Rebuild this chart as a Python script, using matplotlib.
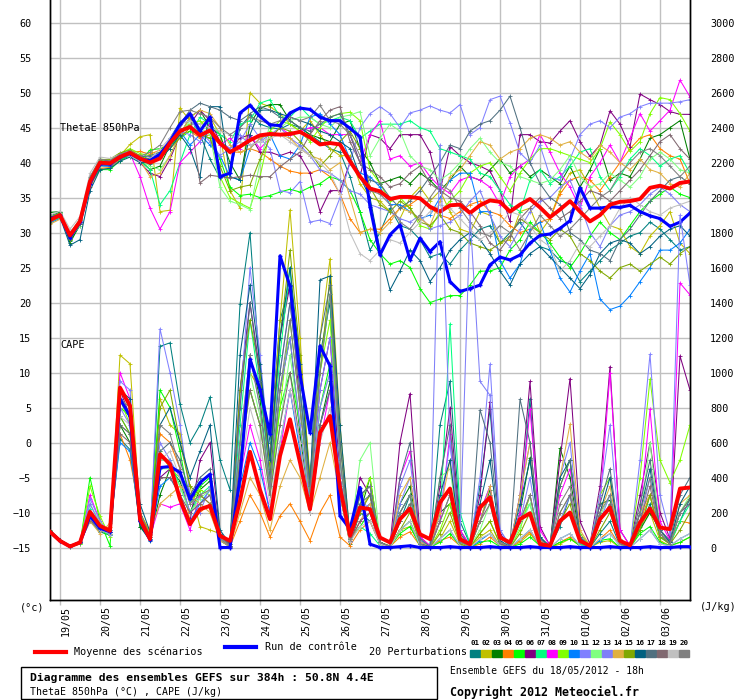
import numpy as np
import matplotlib
matplotlib.use('Agg')
import matplotlib.pyplot as plt
from matplotlib.patches import Rectangle
from matplotlib.lines import Line2D
from matplotlib.transforms import ScaledTranslation

# 65 steps of 6h, from 18/05 18h to 04/06 18h (384h)
steps = np.arange(65)
dates = ['19/05', '20/05', '21/05', '22/05', '23/05', '24/05', '25/05', '26/05',
         '27/05', '28/05', '29/05', '30/05', '31/05', '01/06', '02/06', '03/06']

# ThetaE 850hPa (degC)
theta_mean = [31.8, 32.5, 29.6, 31.6, 37.3, 40.0, 39.9, 40.8, 41.4, 40.6, 40.0, 40.6,
              42.8, 44.5, 45.1, 43.9, 44.6, 42.8, 41.5, 42.3, 43.2, 43.9, 44.1, 44.0, 44.1, 44.4,
              43.6, 42.6, 42.8, 42.6, 40.2, 38.0, 36.3,
              35.9, 34.8, 35.1, 35.1, 34.9, 33.7, 33.0, 33.9, 34.0, 32.8, 33.9, 34.6, 34.4, 33.0,
              34.0, 34.8, 33.6, 32.2, 33.3, 34.5, 33.0, 31.6, 32.5, 34.0, 34.4, 34.5, 34.8, 36.4,
              36.7, 36.3, 37.1, 37.3]
theta_ctrl = [32.0, 32.5, 29.3, 31.5, 37.0, 39.8, 39.8, 40.8, 41.3, 40.5, 40.3, 41.2,
              43.0, 45.5, 47.0, 44.5, 46.5, 38.0, 38.5, 47.1, 48.2, 46.6, 45.4, 45.3, 47.1, 47.8,
              47.6, 46.5, 46.0, 46.0, 44.9, 43.7, 33.7,
              26.8, 29.7, 31.1, 26.1, 29.2, 27.3, 28.7, 23.0, 21.6, 22.0, 22.5, 25.4, 26.5, 26.1,
              26.8, 28.5, 29.6, 29.8, 30.6, 31.7, 36.4, 33.5, 33.5, 33.7, 33.6, 33.9, 33.0, 32.4,
              32.0, 30.9, 31.5, 32.8]

theta_01 = [32.4, 32.9, 28.8, 31.0, 37.0, 39.6, 39.5, 40.5, 41.0, 40.3, 39.8, 40.8,
            43.5, 45.8, 46.5, 44.0, 40.5, 37.8, 38.5, 45.0, 46.8, 45.5, 45.0, 44.8, 45.5, 45.0, 44.0, 43.0, 42.0, 41.5, 38.0, 33.0, 27.5,
            30.0, 33.5, 31.0, 30.5, 29.0, 26.5, 27.0, 25.5, 27.5, 29.0, 30.5, 31.0, 28.5, 30.0, 31.5, 29.5,
            28.0, 27.5, 26.0, 25.5, 23.0, 24.5, 26.0, 27.5, 28.5, 29.5, 30.0, 31.5, 30.5, 29.0, 27.5, 28.0]
theta_02 = [32.0, 32.6, 29.4, 31.4, 37.5, 40.2, 40.0, 41.0, 42.6, 43.7, 44.0, 33.0,
            33.2, 47.8, 46.0, 45.5, 46.5, 44.0, 36.0, 33.5, 50.0, 48.5, 48.0, 47.0, 45.5, 44.5, 46.0, 44.0, 42.0, 41.0, 41.0, 37.0, 35.0,
            34.5, 33.0, 32.0, 35.0, 36.5, 34.5, 36.0, 33.0, 30.5, 30.0, 33.0, 32.5, 28.5, 29.0, 33.0, 33.5,
            30.0, 32.0, 36.0, 38.5, 39.0, 36.5, 33.5, 31.0, 30.5, 28.0, 27.0, 29.5, 31.0, 33.0, 28.5, 27.0]
theta_03 = [32.9, 33.0, 28.5, 31.2, 37.2, 40.2, 40.3, 40.8, 41.3, 40.4, 39.0, 39.5,
            42.5, 44.0, 46.5, 47.5, 45.0, 44.0, 40.0, 37.5, 45.5, 47.8, 48.3, 48.3, 46.0, 45.0, 44.0, 43.5, 43.0, 45.5, 46.0, 42.0, 40.0,
            37.0, 37.5, 38.0, 37.0, 38.5, 37.5, 36.0, 37.5, 39.5, 38.0, 37.5, 39.0, 40.5, 38.5, 39.5, 38.0,
            39.0, 38.0, 37.0, 39.5, 36.5, 39.0, 42.0, 37.5, 38.5, 38.0, 40.5, 43.5, 44.0, 45.0, 46.0, 40.5]
theta_04 = [31.5, 32.2, 29.8, 31.8, 36.5, 39.2, 39.3, 40.5, 41.5, 41.6, 41.2, 41.8,
            43.0, 44.0, 44.5, 43.5, 44.0, 42.5, 41.5, 41.5, 42.0, 41.5, 40.5, 39.5, 38.8, 38.5, 38.5, 39.0, 38.0, 35.5, 32.0, 30.0, 30.5,
            30.5, 32.0, 33.5, 34.0, 35.0, 33.5, 32.5, 32.0, 33.0, 34.0, 34.5, 33.0, 32.5, 31.0, 30.0, 30.5,
            31.5, 32.0, 35.5, 37.5, 38.0, 37.5, 36.0, 38.0, 40.0, 42.0, 43.5, 44.0, 42.0, 41.0, 40.5, 37.0]
theta_05 = [32.2, 32.5, 29.0, 31.2, 37.0, 39.0, 39.0, 40.3, 41.0, 40.2, 41.8, 42.0,
            42.5, 43.5, 44.5, 44.0, 43.5, 40.5, 36.5, 35.3, 35.5, 35.0, 35.3, 35.8, 36.2, 35.8, 36.5, 37.0, 38.0, 37.5, 36.0, 33.0, 29.0,
            27.0, 25.5, 26.0, 25.0, 22.0, 20.0, 20.5, 21.0, 21.0, 22.5, 24.5, 24.5, 25.0, 27.5, 29.0, 31.5,
            30.0, 28.5, 26.5, 25.0, 27.0, 29.5, 31.5, 30.0, 29.0, 31.0, 33.0, 34.5, 35.5, 36.5, 35.5, 35.0]
theta_06 = [31.6, 32.3, 29.9, 31.8, 37.5, 40.1, 40.3, 41.2, 41.5, 40.0, 38.5, 38.0,
            40.5, 44.0, 45.5, 47.5, 46.0, 43.0, 42.0, 43.5, 44.0, 41.5, 41.5, 41.0, 41.5, 41.0, 38.5, 33.0, 36.0, 36.0, 40.0, 38.0, 44.0,
            43.5, 42.0, 44.0, 44.0, 44.0, 41.5, 35.9, 42.3, 41.0, 40.0, 39.5, 38.8, 36.0, 31.6, 44.0, 44.0,
            43.0, 42.8, 44.5, 46.0, 43.0, 40.9, 42.5, 47.4, 45.5, 42.3, 49.8, 49.0, 48.3, 47.3, 46.9, 46.9]
theta_07 = [32.0, 32.8, 29.2, 31.5, 37.8, 40.3, 40.0, 41.0, 41.5, 40.2, 39.0, 34.0,
            36.0, 40.0, 44.0, 46.5, 45.5, 44.0, 43.0, 45.5, 46.0, 48.5, 49.0, 46.5, 46.5, 48.0, 46.5, 45.5, 46.0, 46.5, 46.0, 43.5, 44.5,
            45.5, 45.5, 45.5, 46.0, 45.0, 44.5, 42.0, 41.5, 41.0, 40.5, 38.5, 38.0, 36.0, 34.0, 33.0, 37.5,
            39.0, 37.0, 38.0, 39.5, 41.5, 42.0, 38.0, 36.0, 38.0, 40.5, 42.0, 41.0, 39.5, 40.5, 41.0, 38.5]
theta_08 = [31.8, 32.4, 29.3, 31.6, 37.4, 40.0, 39.8, 40.7, 41.3, 38.0, 33.5, 30.5,
            33.0, 40.0, 41.5, 43.0, 45.5, 42.5, 43.5, 42.0, 44.0, 42.0, 43.5, 45.0, 44.0, 44.5, 45.0, 45.0, 44.0, 44.0, 44.0, 40.0, 44.0,
            46.0, 40.5, 41.0, 39.5, 40.0, 38.0, 36.5, 35.6, 37.5, 38.0, 37.5, 36.5, 34.0, 38.0, 39.5, 40.5,
            44.0, 41.5, 38.5, 36.5, 33.5, 38.0, 40.0, 42.5, 40.0, 43.5, 47.0, 44.5, 46.0, 47.5, 51.8, 49.4]
theta_09 = [31.5, 32.1, 29.7, 31.8, 37.8, 40.5, 40.4, 41.3, 42.0, 41.3, 41.0, 41.5,
            43.0, 44.5, 45.5, 46.0, 44.5, 38.0, 35.0, 34.2, 33.5, 38.0, 44.5, 46.0, 45.5, 44.5, 43.0, 45.0, 46.5, 47.0, 47.2, 46.0, 39.0,
            37.0, 34.5, 35.0, 33.5, 31.0, 30.5, 33.0, 34.5, 36.0, 38.5, 39.5, 40.0, 38.0, 36.0, 38.5, 40.5,
            42.0, 42.0, 41.5, 41.0, 40.5, 40.0, 42.0, 45.8, 44.0, 41.6, 43.0, 47.0, 49.3, 49.0, 47.0, 44.5]
theta_10 = [31.4, 32.0, 29.6, 31.7, 37.0, 39.5, 39.5, 40.6, 41.0, 40.6, 40.5, 41.0,
            43.0, 44.5, 42.5, 44.0, 42.5, 41.0, 38.0, 37.5, 42.0, 43.5, 44.0, 41.0, 40.5, 42.5, 46.5, 47.0, 45.5, 44.0, 40.5, 38.5, 38.0,
            36.5, 34.0, 34.0, 33.0, 32.0, 32.5, 35.0, 37.5, 38.5, 38.5, 33.0, 33.0, 26.0, 23.5, 25.5, 30.5,
            31.5, 27.5, 23.5, 21.5, 24.5, 27.0, 20.5, 19.0, 19.5, 21.0, 23.0, 25.0, 27.5, 27.5, 28.5, 30.5]
theta_11 = [32.0, 32.5, 29.8, 31.7, 37.5, 40.0, 40.0, 41.0, 41.4, 40.7, 40.3, 41.0,
            43.0, 44.5, 44.0, 43.0, 44.5, 43.0, 42.0, 43.0, 45.5, 43.5, 42.0, 36.0, 35.7, 37.3, 31.5, 31.8, 31.3, 35.0, 40.0, 45.0, 47.0,
            48.0, 47.0, 45.0, 47.1, 47.5, 48.1, 47.5, 47.1, 48.3, 44.0, 45.0, 49.0, 49.5, 45.7, 41.4, 40.0,
            42.5, 38.0, 37.5, 40.5, 44.0, 45.5, 46.0, 45.0, 46.5, 47.0, 48.0, 48.5, 48.5, 48.5, 48.7, 49.0]
theta_12 = [32.2, 32.7, 29.2, 31.0, 36.8, 39.5, 39.8, 40.9, 41.0, 40.3, 39.5, 39.0,
            41.0, 44.0, 46.0, 45.0, 44.0, 36.5, 34.5, 34.0, 33.3, 40.0, 45.5, 45.0, 46.0, 46.5, 46.5, 45.5, 45.0, 46.5, 46.8, 47.3, 41.0,
            43.5, 45.5, 44.5, 41.0, 39.5, 39.0, 37.5, 38.5, 40.0, 42.0, 43.5, 41.5, 40.0, 39.5, 38.0, 37.5,
            37.0, 37.5, 39.0, 41.0, 38.0, 36.5, 37.0, 38.5, 37.5, 36.5, 38.0, 40.5, 41.5, 40.5, 39.0, 38.5]
theta_13 = [31.7, 32.4, 29.5, 31.4, 37.0, 39.9, 40.1, 40.9, 41.6, 41.0, 40.8, 41.3,
            43.5, 45.5, 46.0, 44.5, 43.0, 41.0, 42.0, 44.0, 42.5, 43.0, 44.0, 45.0, 43.5, 42.5, 41.0, 39.0, 38.5, 37.5, 36.0, 35.5, 34.0,
            33.5, 33.0, 32.0, 31.5, 32.5, 30.5, 31.0, 31.5, 32.5, 34.5, 36.0, 32.5, 29.5, 28.0, 30.5, 33.0,
            34.5, 35.0, 36.5, 37.5, 34.0, 30.0, 28.0, 31.0, 32.5, 33.0, 34.0, 35.5, 36.5, 35.5, 34.0, 33.0]
theta_14 = [31.2, 31.9, 29.9, 32.0, 37.8, 40.2, 40.0, 40.9, 41.5, 40.3, 38.0, 38.5,
            41.0, 44.0, 46.5, 47.5, 47.0, 45.0, 42.5, 41.5, 42.0, 43.5, 44.0, 44.0, 43.5, 42.0, 41.0, 40.5, 39.0, 40.0, 35.0, 30.0, 30.5,
            30.0, 31.5, 33.5, 33.0, 32.0, 31.0, 34.5, 38.0, 39.0, 41.0, 43.0, 42.5, 40.5, 41.5, 42.0, 43.5,
            44.0, 43.5, 42.5, 43.0, 41.5, 40.5, 42.5, 41.5, 40.0, 39.0, 40.5, 39.0, 38.5, 37.0, 36.5, 38.5]
theta_15 = [32.3, 32.8, 29.0, 31.3, 37.3, 40.4, 40.5, 41.4, 41.8, 41.0, 40.5, 41.0,
            42.0, 43.5, 45.0, 44.0, 43.5, 39.5, 36.0, 36.5, 36.8, 40.5, 43.5, 45.0, 44.5, 43.0, 41.5, 39.5, 41.0, 43.0, 44.5, 42.0, 36.5,
            34.0, 33.0, 34.5, 33.5, 31.5, 31.0, 32.5, 30.5, 30.0, 28.5, 28.0, 27.5, 28.5, 29.5, 32.0, 31.0,
            30.0, 29.0, 30.5, 29.5, 27.0, 26.0, 24.5, 23.5, 25.0, 25.5, 24.5, 25.5, 26.5, 25.5, 27.0, 28.0]
theta_16 = [31.9, 32.2, 28.2, 29.0, 36.0, 39.0, 39.2, 40.2, 40.8, 40.0, 40.0, 40.6,
            42.0, 44.0, 42.0, 38.0, 48.0, 48.0, 38.0, 37.5, 44.0, 47.5, 47.5, 47.0, 46.5, 46.0, 45.5, 44.5, 44.0, 43.0, 42.0, 38.0, 35.0,
            27.5, 21.8, 24.5, 27.5, 26.0, 23.0, 25.0, 27.5, 29.0, 30.0, 29.0, 27.0, 24.5, 22.5, 25.5, 27.0,
            28.0, 26.5, 25.0, 23.5, 22.0, 24.0, 27.0, 28.5, 29.0, 28.5, 27.0, 28.0, 29.5, 30.5, 31.0, 29.5]
theta_17 = [31.6, 32.3, 29.1, 31.2, 37.6, 40.1, 40.2, 41.1, 41.4, 40.8, 41.0, 41.5,
            43.0, 45.5, 47.5, 48.5, 48.0, 47.5, 46.5, 46.0, 47.0, 48.0, 47.5, 46.5, 46.0, 45.0, 44.5, 45.5, 46.5, 47.0, 44.0, 40.0, 37.5,
            37.0, 35.0, 33.5, 34.5, 36.0, 38.0, 40.0, 42.5, 42.0, 44.5, 45.5, 46.0, 47.5, 49.5, 45.0, 40.0,
            37.0, 35.0, 34.0, 30.0, 29.0, 27.5, 27.0, 26.0, 29.0, 30.5, 32.5, 34.5, 36.0, 37.5, 38.0, 37.0]
theta_18 = [31.8, 32.5, 29.7, 31.5, 37.1, 39.7, 39.7, 40.7, 41.3, 40.4, 40.2, 41.0,
            42.5, 45.0, 47.0, 37.1, 38.2, 38.0, 37.8, 38.0, 38.2, 38.0, 38.0, 39.4, 40.5, 41.5, 44.0, 46.0, 47.5, 48.0, 43.0, 40.0, 39.0,
            38.0, 36.5, 37.0, 38.5, 39.5, 37.0, 36.0, 35.0, 34.5, 33.0, 31.0, 28.5, 27.5, 29.5, 32.0, 33.5,
            35.0, 33.5, 32.0, 33.0, 34.5, 36.0, 35.5, 34.5, 36.0, 37.5, 39.0, 41.0, 43.0, 44.0, 42.0, 40.5]
theta_19 = [32.5, 33.1, 30.5, 32.3, 38.5, 40.8, 40.6, 41.2, 41.0, 40.2, 40.5, 42.0,
            43.5, 45.5, 46.0, 45.5, 45.0, 44.5, 44.0, 43.0, 42.5, 43.0, 43.5, 44.0, 43.0, 42.0, 41.0, 40.0, 38.5, 35.5, 30.0, 27.0, 26.0,
            27.5, 29.0, 28.5, 30.0, 31.5, 33.0, 34.0, 33.5, 32.0, 30.5, 29.0, 30.0, 31.0, 33.0, 32.5, 31.0,
            29.0, 28.0, 24.5, 26.0, 28.5, 28.0, 29.5, 31.0, 33.5, 35.0, 34.0, 33.0, 32.5, 33.5, 34.0, 34.5]
theta_20 = [31.7, 32.6, 29.9, 31.9, 38.0, 40.5, 40.3, 41.2, 41.7, 40.9, 41.5, 42.5,
            45.0, 47.3, 47.5, 47.0, 46.5, 45.0, 44.0, 45.0, 46.5, 46.0, 45.5, 46.0, 46.5, 46.0, 46.5, 48.2, 46.0, 45.5, 44.0, 41.0, 36.0,
            35.5, 34.0, 31.5, 30.5, 32.5, 35.0, 37.0, 36.0, 33.5, 31.5, 30.0, 29.5, 31.0, 30.0, 27.5, 30.0,
            32.5, 31.0, 29.5, 30.5, 32.0, 33.5, 35.0, 36.0, 38.5, 40.0, 41.5, 42.0, 41.0, 39.5, 38.0, 39.5]

# CAPE (J/kg)
cape_mean = [90, 38, 6, 29, 204, 124, 95, 914, 810, 162, 48, 533, 476,
             276, 133, 219, 238, 67, 38, 267, 547, 330, 162, 524, 733, 486,
             219, 657, 752, 343, 67, 229, 219, 57, 29, 162, 223, 76, 48,
             257, 337, 48, 19, 229, 286, 57, 29, 162, 196, 19, 10, 152,
             200, 38, 10, 162, 229, 38, 13, 143, 223, 114, 105, 337, 343]
cape_ctrl = [90, 38, 6, 29, 180, 110, 90, 850, 750, 150, 45, 457, 463,
             429, 276, 371, 419, 0, 0, 400, 1076, 905, 648, 1667, 1495, 990,
             657, 1152, 1038, 181, 105, 343, 19, 0, 0, 5, 10, 0, 0,
             0, 5, 0, 0, 0, 5, 0, 0, 0, 5, 0, 0, 0,
             5, 0, 0, 0, 5, 0, 0, 0, 5, 0, 0, 5, 5]

cape_01 = [95, 40, 8, 30, 180, 110, 90, 620, 560, 120, 40, 1150, 1170,
           820, 600, 700, 860, 500, 330, 1390, 1800, 1000, 600, 1300, 1500, 900,
           400, 1100, 1400, 300, 40, 200, 150, 20, 5, 150, 300, 30, 10,
           700, 950, 150, 20, 350, 790, 60, 10, 200, 850, 40, 5, 120,
           300, 20, 0, 80, 150, 10, 0, 100, 250, 60, 30, 150, 280]
cape_02 = [90, 35, 5, 25, 200, 120, 80, 1100, 1050, 200, 90, 850, 700,
           650, 350, 120, 100, 80, 20, 400, 1000, 900, 500, 1300, 1930, 1200,
           350, 1200, 1650, 700, 60, 220, 300, 30, 10, 100, 120, 20, 0,
           50, 150, 20, 0, 60, 100, 10, 0, 30, 80, 10, 0, 20,
           50, 10, 0, 30, 40, 0, 0, 120, 200, 40, 10, 30, 60]
cape_03 = [100, 45, 10, 35, 160, 90, 70, 700, 600, 120, 50, 300, 450,
           380, 200, 330, 380, 80, 10, 500, 1100, 850, 300, 900, 1200, 650,
           200, 700, 950, 300, 20, 200, 400, 30, 5, 250, 350, 40, 5,
           200, 250, 30, 10, 150, 330, 20, 5, 200, 514, 60, 5, 566,
           400, 50, 10, 250, 270, 30, 0, 100, 200, 100, 30, 200, 280]
cape_04 = [90, 40, 5, 30, 150, 100, 120, 650, 500, 200, 80, 650, 600,
           450, 150, 200, 250, 40, 5, 150, 300, 200, 60, 180, 250, 150,
           40, 200, 300, 60, 10, 100, 150, 20, 5, 60, 90, 10, 0,
           40, 60, 10, 0, 20, 60, 10, 0, 40, 90, 10, 0, 30,
           60, 10, 0, 50, 100, 10, 0, 150, 300, 60, 20, 150, 140]
cape_05 = [85, 38, 5, 20, 400, 150, 10, 800, 750, 200, 60, 900, 800,
           550, 250, 350, 400, 60, 5, 600, 900, 700, 350, 800, 1000, 700,
           250, 800, 1050, 400, 50, 120, 200, 20, 5, 80, 120, 10, 0,
           30, 80, 10, 0, 30, 40, 5, 0, 20, 60, 10, 0, 30,
           50, 10, 0, 40, 50, 0, 0, 80, 120, 30, 10, 30, 60]
cape_06 = [92, 42, 6, 28, 180, 120, 90, 900, 750, 150, 60, 400, 450,
           300, 150, 500, 600, 80, 10, 900, 1400, 1000, 500, 1200, 1500, 800,
           300, 900, 1200, 400, 30, 400, 300, 20, 10, 600, 880, 60, 10,
           350, 800, 100, 10, 300, 834, 80, 10, 300, 949, 120, 10, 500,
           966, 150, 20, 350, 1034, 100, 10, 300, 600, 200, 50, 1095, 900]
cape_07 = [88, 40, 5, 25, 220, 100, 70, 750, 650, 150, 50, 500, 500,
           350, 200, 300, 350, 60, 10, 700, 1300, 900, 400, 1100, 1600, 900,
           300, 1000, 1450, 500, 40, 120, 80, 10, 0, 150, 250, 20, 0,
           150, 1278, 200, 20, 200, 350, 30, 5, 150, 250, 20, 5, 150,
           200, 20, 0, 150, 250, 20, 0, 100, 300, 60, 20, 150, 250]
cape_08 = [90, 40, 6, 28, 300, 150, 80, 1000, 850, 200, 60, 250, 230,
           250, 100, 300, 250, 40, 5, 400, 700, 500, 200, 550, 900, 600,
           200, 600, 900, 350, 30, 150, 200, 20, 5, 400, 550, 60, 10,
           150, 650, 100, 10, 200, 350, 30, 5, 200, 790, 100, 10, 300,
           450, 80, 10, 250, 1000, 100, 10, 200, 790, 150, 40, 1512, 1444]
cape_09 = [87, 38, 4, 22, 350, 180, 60, 850, 700, 180, 60, 550, 450,
           400, 250, 330, 300, 40, 5, 500, 900, 700, 300, 800, 1300, 800,
           300, 1000, 1300, 500, 60, 250, 400, 20, 0, 100, 150, 20, 0,
           100, 250, 30, 5, 80, 150, 20, 0, 100, 300, 30, 5, 350,
           500, 80, 10, 300, 400, 50, 5, 400, 962, 500, 371, 500, 700]
cape_10 = [90, 40, 7, 28, 150, 90, 100, 600, 550, 150, 50, 350, 400,
           300, 150, 250, 330, 40, 5, 350, 600, 450, 200, 600, 900, 550,
           200, 700, 900, 400, 50, 200, 250, 20, 5, 100, 150, 10, 0,
           50, 100, 10, 0, 40, 80, 10, 0, 50, 100, 10, 0, 50,
           80, 10, 0, 40, 80, 10, 0, 50, 100, 20, 10, 50, 80]
cape_11 = [90, 40, 6, 28, 280, 150, 80, 950, 900, 200, 60, 1250, 1000,
           700, 300, 200, 350, 60, 10, 800, 1600, 1100, 500, 1000, 1400, 900,
           350, 900, 1200, 500, 40, 300, 200, 20, 5, 250, 400, 30, 5,
           200, 600, 80, 10, 400, 1048, 100, 10, 300, 600, 50, 5, 400,
           600, 60, 10, 300, 700, 50, 5, 500, 1105, 300, 80, 1900, 1500]
cape_12 = [90, 40, 6, 27, 250, 140, 80, 850, 800, 150, 60, 450, 450,
           350, 200, 280, 330, 50, 5, 550, 1000, 750, 300, 700, 1100, 700,
           250, 800, 1000, 350, 40, 500, 600, 30, 5, 200, 300, 20, 0,
           400, 450, 50, 5, 100, 250, 20, 0, 120, 250, 20, 5, 200,
           300, 30, 5, 180, 300, 30, 5, 150, 600, 100, 20, 200, 300]
cape_13 = [88, 38, 5, 25, 250, 130, 70, 800, 700, 180, 60, 600, 500,
           400, 200, 250, 300, 50, 5, 600, 1100, 800, 350, 900, 1200, 700,
           250, 800, 1000, 400, 40, 200, 250, 20, 5, 350, 500, 40, 5,
           2300, 600, 50, 1900, 950, 870, 100, 10, 150, 400, 40, 5, 150,
           300, 40, 5, 150, 300, 30, 5, 150, 400, 100, 30, 200, 250]
cape_14 = [92, 40, 6, 28, 150, 80, 140, 700, 650, 150, 90, 250, 300,
           350, 300, 250, 200, 40, 5, 200, 400, 300, 100, 350, 500, 400,
           200, 400, 600, 300, 30, 150, 250, 20, 5, 300, 400, 30, 5,
           200, 500, 60, 5, 150, 350, 30, 5, 300, 600, 40, 5, 400,
           705, 100, 10, 200, 350, 30, 5, 200, 300, 80, 20, 250, 300]
cape_15 = [90, 38, 5, 25, 170, 100, 90, 750, 650, 200, 70, 800, 900,
           600, 350, 300, 250, 50, 5, 900, 1300, 1000, 450, 1200, 1700, 1100,
           400, 1000, 1550, 600, 60, 200, 300, 30, 5, 100, 200, 20, 0,
           80, 200, 20, 0, 80, 150, 20, 0, 80, 200, 20, 0, 150,
           250, 30, 0, 100, 200, 20, 0, 100, 300, 60, 20, 100, 200]
cape_16 = [95, 42, 7, 30, 200, 110, 100, 900, 850, 250, 90, 700, 800,
           600, 400, 550, 700, 100, 20, 1100, 1500, 1050, 500, 1200, 1600, 1050,
           350, 1530, 1552, 700, 60, 300, 350, 30, 5, 200, 300, 20, 5,
           300, 500, 50, 5, 250, 500, 40, 5, 250, 500, 60, 5, 400,
           500, 60, 5, 200, 400, 40, 5, 200, 450, 100, 30, 250, 350]
cape_17 = [92, 40, 6, 28, 190, 110, 90, 700, 650, 180, 60, 550, 600,
           500, 300, 400, 450, 80, 10, 800, 1400, 950, 400, 1000, 1400, 900,
           350, 1200, 1500, 600, 50, 250, 300, 30, 5, 400, 600, 50, 5,
           400, 700, 80, 10, 787, 600, 60, 10, 848, 600, 50, 5, 350,
           500, 60, 5, 250, 450, 40, 5, 250, 500, 100, 40, 300, 400]
cape_18 = [90, 40, 6, 26, 160, 100, 80, 650, 600, 150, 60, 400, 400,
           300, 200, 250, 300, 60, 10, 500, 900, 700, 300, 700, 1000, 600,
           200, 700, 900, 350, 40, 150, 200, 20, 5, 150, 250, 20, 0,
           150, 300, 40, 5, 150, 250, 20, 5, 150, 300, 30, 5, 200,
           300, 30, 5, 150, 250, 20, 5, 150, 350, 80, 20, 200, 250]
cape_19 = [88, 38, 5, 24, 170, 100, 80, 750, 700, 160, 60, 500, 550,
           400, 250, 300, 330, 50, 5, 400, 800, 600, 250, 600, 900, 600,
           200, 600, 800, 300, 30, 120, 150, 20, 0, 100, 150, 10, 0,
           50, 100, 10, 0, 50, 80, 10, 0, 50, 100, 10, 0, 50,
           80, 10, 0, 50, 80, 10, 0, 50, 100, 20, 10, 50, 80]
cape_20 = [90, 40, 6, 28, 200, 110, 90, 850, 800, 200, 60, 700, 650,
           450, 250, 300, 330, 50, 5, 600, 1100, 800, 350, 900, 1300, 800,
           300, 1000, 1450, 500, 50, 300, 350, 30, 5, 200, 300, 20, 0,
           150, 300, 30, 5, 150, 300, 30, 5, 150, 300, 30, 5, 250,
           350, 30, 5, 200, 300, 30, 5, 200, 400, 80, 20, 200, 280]

member_colors = ['#008080', '#c0c000', '#008000', '#ff8000', '#00ff00',
                 '#800080', '#00ff80', '#ff00ff', '#80ff00', '#0080ff',
                 '#8080ff', '#80ff80', '#7f7ff8', '#e0b040', '#80a800',
                 '#006080', '#507080', '#806870', '#c0c0c0', '#808080']

theta_members = [theta_01, theta_02, theta_03, theta_04, theta_05, theta_06, theta_07,
                 theta_08, theta_09, theta_10, theta_11, theta_12, theta_13, theta_14,
                 theta_15, theta_16, theta_17, theta_18, theta_19, theta_20]
cape_members = [cape_01, cape_02, cape_03, cape_04, cape_05, cape_06, cape_07,
                cape_08, cape_09, cape_10, cape_11, cape_12, cape_13, cape_14,
                cape_15, cape_16, cape_17, cape_18, cape_19, cape_20]

W, H = 740, 700
mono = 'DejaVu Sans Mono'
plt.rcParams['font.family'] = mono

fig = plt.figure(figsize=(W / 100, H / 100), dpi=100)

def fx(x):
    return x / W

def fy(y):
    return 1 - y / H

ax = fig.add_axes([fx(50), fy(600), 640 / W, 600 / H])
ylo, yhi = -22.5, 63.24
ax.set_xlim(0, 64)
ax.set_ylim(ylo, yhi)
ax2 = ax.twinx()
ax2.set_ylim((ylo + 15) * 40, (yhi + 15) * 40)   # CAPE scale: 0 J/kg at -15, 200 J/kg per 5 degC

ax.set_yticks(range(-15, 61, 5))
ax.tick_params(axis='y', length=0, pad=13.5, labelsize=7.3)
ax2.set_yticks(range(0, 3001, 200))
ax2.tick_params(axis='y', length=0, pad=14.5, labelsize=7.3)

ax.set_xticks(range(1, 62, 4))
ax.set_xticklabels(dates, rotation=90, va='top', ha='center', fontsize=7.2)
ax.tick_params(axis='x', length=3.5, color='#c0c0c0', width=1.0, pad=0.5)
for lab in ax.get_xticklabels():
    lab.set_transform(lab.get_transform() + ScaledTranslation(0.06, 0, fig.dpi_scale_trans))

ax.grid(True, color='#c0c0c0', lw=1.0)
ax.set_axisbelow(True)
for a in (ax, ax2):
    a.spines['top'].set_visible(False)
    for s in ('left', 'right', 'bottom'):
        a.spines[s].set_linewidth(1.0)
        a.spines[s].set_color('black')

# perturbations
for th, cp, c in zip(theta_members, cape_members, member_colors):
    ax.plot(steps, th, color=c, lw=0.75, marker='+', ms=3, mew=0.6, zorder=2)
    ax2.plot(steps, cp, color=c, lw=0.75, marker='+', ms=3, mew=0.6, zorder=2)

# control run and ensemble mean
ax.plot(steps, theta_ctrl, color='#0000ff', lw=2.2, marker='+', ms=3, zorder=3)
ax2.plot(steps, cape_ctrl, color='#0000ff', lw=2.2, marker='+', ms=3, zorder=3)
ax.plot(steps, theta_mean, color='#ff0000', lw=2.8, zorder=4)
ax2.plot(steps, cape_mean, color='#ff0000', lw=2.8, zorder=4)

# in-plot labels
fig.text(fx(60), fy(128), 'ThetaE 850hPa', fontsize=7.3, va='center', ha='left')
fig.text(fx(60), fy(345), 'CAPE', fontsize=7.3, va='center', ha='left')
fig.text(fx(20), fy(607), '(°c)', fontsize=7.3, va='center', ha='left')
fig.text(fx(700), fy(607), '(J/kg)', fontsize=7.3, va='center', ha='left')

# legend
fig.add_artist(Line2D([fx(35), fx(66)], [fy(652), fy(652)], color='#ff0000', lw=3.0,
                      transform=fig.transFigure))
fig.text(fx(74), fy(652), 'Moyenne des scénarios', fontsize=7.3, va='center')
fig.add_artist(Line2D([fx(225), fx(256)], [fy(647), fy(647)], color='#0000ff', lw=3.0,
                      transform=fig.transFigure))
fig.text(fx(265), fy(647), 'Run de contrôle', fontsize=7.3, va='center')
fig.text(fx(369), fy(652), '20 Perturbations', fontsize=7.3, va='center')
for k, c in enumerate(member_colors):
    x0 = 470 + 11 * k
    fig.add_artist(Rectangle((fx(x0), fy(657)), 10 / W, 7 / H, color=c,
                             transform=fig.transFigure))
    fig.text(fx(x0 + 5), fy(643), '%02d' % (k + 1), fontsize=5.3, ha='center',
             va='center', fontweight='bold')

# info box
fig.add_artist(Rectangle((fx(21), fy(699)), 416 / W, 32 / H, fill=False,
                         edgecolor='black', lw=1.0, transform=fig.transFigure))
fig.text(fx(30), fy(678), 'Diagramme des ensembles GEFS sur 384h : 50.8N 4.4E',
         fontsize=8.2, fontweight='bold', va='center')
fig.text(fx(30), fy(692), 'ThetaE 850hPa (°C) , CAPE (J/kg)', fontsize=7.1, va='center')
fig.text(fx(450), fy(671), 'Ensemble GEFS du 18/05/2012 - 18h', fontsize=7.0, va='center')
fig.text(fx(450), fy(692), 'Copyright 2012 Meteociel.fr', fontsize=8.4,
         fontweight='bold', va='center')

fig.savefig('out.png', dpi=100)
